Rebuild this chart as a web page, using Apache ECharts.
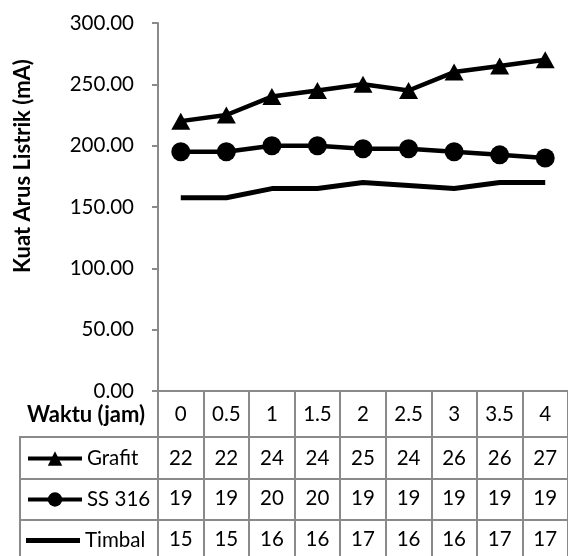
<!DOCTYPE html>
<html>
<head>
<meta charset="utf-8">
<script src="https://cdn.jsdelivr.net/npm/echarts@6/dist/echarts.min.js"></script>
<style>
  html, body { margin: 0; padding: 0; background: #fff; }
  #chart { width: 568px; height: 556px; }
</style>
</head>
<body>
<div id="chart"></div>
<script>
// Waktu (jam) categories and measured current (mA) per electrode
const waktu = ['0', '0.5', '1', '1.5', '2', '2.5', '3', '3.5', '4'];
const grafit = [220, 225, 240, 245, 250, 245, 260, 265, 270];
const ss316 = [195, 195, 200, 200, 197.5, 197.5, 195, 192.5, 190];
const timbal = [157.5, 157.5, 165, 165, 170, 167.5, 165, 170, 170];
const yTicks = { min: 0, max: 300, interval: 50 };

const FONT = 'Lato';
const FS = 20.5;        // tick labels, table cells, legend
const FS_TITLE = 22;    // bold axis titles
const GRAY = '#8a8a8a';
const BLACK = '#000';

const chart = echarts.init(document.getElementById('chart'), null, { renderer: 'canvas' });

// grid geometry (the data table hangs beneath the plot)
const G = { left: 158, top: 23, right: -9, bottom: 165 };
const rowOffsets = [0, 46, 88, 129];          // row lines below the category axis
const rowMargins = [23.5, 21.5, 19.5, 19.5];  // label centre distance from each row line

// data-table cell text: cell is too narrow, so only the leading two characters show
const cell = v => String(v).slice(0, 2);

function rowAxis(i, values) {
  return {
    type: 'category',
    gridIndex: 0,
    position: 'bottom',
    offset: rowOffsets[i],
    data: waktu,
    boundaryGap: true,
    axisLine: { show: i > 0, lineStyle: { color: GRAY, width: 2 } },
    axisTick: { show: false },
    axisLabel: {
      interval: 0,
      margin: rowMargins[i],
      verticalAlign: 'middle',
      color: BLACK,
      fontFamily: FONT,
      fontSize: FS,
      formatter: (val, idx) => cell(values[idx])
    },
    splitLine: { show: false }
  };
}

const legendBase = {
  left: 26,
  padding: 0,
  itemWidth: 54,
  itemHeight: 18,
  lineStyle: { width: 4 },
  textStyle: { color: BLACK, fontFamily: FONT, fontSize: FS },
  selectedMode: false
};

const option = {
  animation: false,
  backgroundColor: '#fff',
  textStyle: { fontFamily: FONT },
  grid: G,
  xAxis: [
    {
      type: 'category',
      data: waktu,
      boundaryGap: true,
      axisLine: { show: true, lineStyle: { color: GRAY, width: 2 } },
      axisTick: { show: true, interval: 0, length: 175, lineStyle: { color: GRAY, width: 2 } },
      axisLabel: {
        interval: 0,
        margin: rowMargins[0],
        verticalAlign: 'middle',
        color: BLACK,
        fontFamily: FONT,
        fontSize: FS
      },
      splitLine: { show: false }
    },
    rowAxis(1, grafit),
    rowAxis(2, ss316),
    rowAxis(3, timbal)
  ],
  yAxis: {
    type: 'value',
    min: yTicks.min,
    max: yTicks.max,
    interval: yTicks.interval,
    axisLine: { show: true, lineStyle: { color: GRAY, width: 2 } },
    axisTick: { show: true, length: 6, lineStyle: { color: GRAY, width: 2 } },
    axisLabel: {
      margin: 24,
      color: BLACK,
      fontFamily: FONT,
      fontSize: FS,
      formatter: v => v.toFixed(2)
    },
    splitLine: { show: false }
  },
  legend: [
    Object.assign({}, legendBase, { data: ['Grafit'], top: 448 }),
    Object.assign({}, legendBase, { data: ['SS 316'], top: 489 }),
    // plain line key for the series without markers
    Object.assign({}, legendBase, {
      data: [{ name: 'Timbal', icon: 'rect' }],
      top: 530,
      itemHeight: 5
    })
  ],
  series: [
    {
      name: 'Grafit',
      type: 'line',
      data: grafit,
      symbol: 'triangle',
      symbolSize: [19, 17],
      showAllSymbol: true,
      lineStyle: { color: BLACK, width: 4.5 },
      itemStyle: { color: BLACK }
    },
    {
      name: 'SS 316',
      type: 'line',
      data: ss316,
      symbol: 'circle',
      symbolSize: 19,
      showAllSymbol: true,
      lineStyle: { color: BLACK, width: 4.5 },
      itemStyle: { color: BLACK }
    },
    {
      name: 'Timbal',
      type: 'line',
      data: timbal,
      symbol: 'none',
      lineStyle: { color: BLACK, width: 5 },
      itemStyle: { color: BLACK }
    }
  ],
  graphic: [
    // axis titles
    {
      type: 'text',
      x: 23, y: 166,
      rotation: Math.PI / 2,
      style: {
        text: 'Kuat Arus Listrik (mA)',
        fontFamily: FONT, fontSize: FS_TITLE, fontWeight: 'bold',
        fill: BLACK, align: 'center', verticalAlign: 'middle'
      }
    },
    {
      type: 'text',
      x: 145, y: 415,
      style: {
        text: 'Waktu (jam)',
        fontFamily: FONT, fontSize: FS_TITLE, fontWeight: 'bold',
        fill: BLACK, align: 'right', verticalAlign: 'middle'
      }
    },
    // legend column borders of the data table
    ...[437, 479, 520].map(y => ({
      type: 'line',
      shape: { x1: 19, y1: y, x2: 158, y2: y },
      style: { stroke: GRAY, lineWidth: 2 }
    })),
    {
      type: 'line',
      shape: { x1: 20, y1: 436, x2: 20, y2: 570 },
      style: { stroke: GRAY, lineWidth: 2 }
    }
  ]
};

chart.setOption(option);
</script>
</body>
</html>
